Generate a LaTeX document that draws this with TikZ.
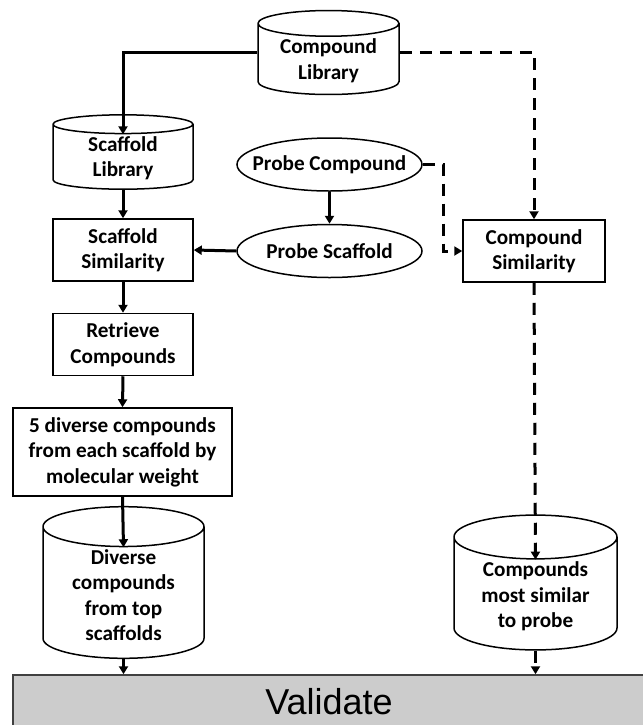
\documentclass[tikz,border=0pt]{standalone}
\usepackage{fontspec}
\setmainfont{Carlito}
\newfontfamily\valfont{Liberation Sans}
\usetikzlibrary{shapes.geometric,arrows.meta,calc}

\begin{document}
\begin{tikzpicture}[x=0.5pt,y=-0.5pt,
	font=\fontsize{10.6}{12.75}\selectfont\bfseries,
	every node/.style={align=center,inner sep=1pt,line width=0.75pt},
	box/.style={draw,rectangle,minimum width=70pt,minimum height=31pt},
	oval/.style={draw,ellipse,inner xsep=-6pt,inner ysep=0pt,minimum width=92.5pt,minimum height=26.5pt},
	can/.style={draw,cylinder,shape border rotate=90,anchor=shape center},
	arr/.style={line width=1.5pt,-{Triangle[width=4.5pt,length=4pt]}},
	dasharr/.style={arr,dash pattern=on 6pt off 4pt}]
	\useasboundingbox (0,0) rectangle (643,725);
	\node[can,minimum width=70.5pt,minimum height=36.5pt,aspect=0.255] (cl) at (328.5,52.5) {Compound\\Library};
	\node[can,minimum width=70pt,minimum height=36.5pt,aspect=0.255] (sl) at (123,152) {Scaffold\\Library};
	\node[oval] (pc) at (329.5,164.5) {Probe Compound};
	\node[oval] (ps) at (329.5,251) {Probe Scaffold};
	\node[box] (ss) at (123,250) {Scaffold\\Similarity};
	\node[box,minimum width=71pt] (cs) at (534,251) {Compound\\Similarity};
	\node[box] (rc) at (123,344.5) {Retrieve\\Compounds};
	\node[box,minimum width=109.5pt,minimum height=44pt] (fd) at (122.5,452) {5 diverse compounds\\from each scaffold by\\molecular weight};
	\node[can,minimum width=80.5pt,minimum height=64.5pt,aspect=0.373] (dc) at (123.5,582.5) {Diverse\\compounds\\from top\\scaffolds};
	\node[can,minimum width=81.5pt,minimum height=64.5pt,aspect=0.39] (ms) at (535.5,582.5) {Compounds\\most similar\\to probe};
	\node[draw=black!75,fill=black!20,minimum width=316pt,minimum height=27pt,font=\valfont\fontsize{18}{20}\selectfont] (va) at (329,702) {Validate};
	\draw[arr] (cl.shape center -| cl.west) -| ($(sl.before top)+(sl.after top)-(sl.top)$);
	\draw[dasharr] (cl.shape center -| cl.east) -| (cs.north);
	\draw[arr] (sl.bottom) -- (ss.north);
	\draw[arr] (ss.south) -- (rc.north);
	\draw[arr] (rc.south) -- (fd.north);
	\draw[arr] (fd.south) -- ($(dc.before top)+(dc.after top)-(dc.top)$);
	\draw[arr] (dc.bottom) -- (dc.bottom |- va.north);
	\draw[arr] (pc.south) -- (ps.north);
	\draw[arr] (ps.west) -- (ss.east);
	\draw[dasharr] (pc.east) -- ++(21,0) |- (cs.west);
	\draw[dasharr] (cs.south) -- ($(ms.before top)+(ms.after top)-(ms.top)$);
	\draw[dasharr] (ms.bottom) -- (ms.bottom |- va.north);
\end{tikzpicture}
\end{document}
